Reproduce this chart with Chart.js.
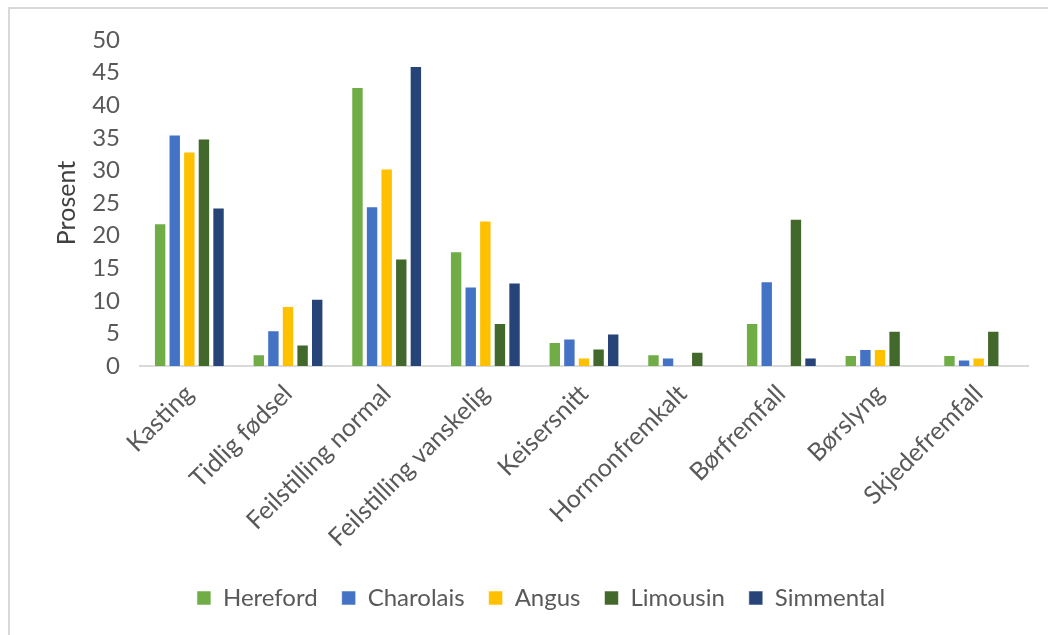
<!DOCTYPE html>
<html>
<head>
<meta charset="utf-8">
<script src="https://cdn.jsdelivr.net/npm/chart.js@4.4.1/dist/chart.umd.min.js"></script>
<style>
  html, body { margin: 0; padding: 0; background: #ffffff; }
  #wrap { position: relative; width: 1048px; height: 635px; overflow: hidden; }
  #frame { position: absolute; left: 8px; top: 7px; width: 1100px; height: 700px;
           border-left: 2px solid #d9d9d9; border-top: 2px solid #d9d9d9; box-sizing: border-box; }
  #c { position: absolute; left: 0; top: 0; }
</style>
</head>
<body>
<div id="wrap">
  <div id="frame"></div>
  <canvas id="c" width="1048" height="635"></canvas>
</div>
<script>
// Birth complications by breed, in percent
const categories = ['Kasting', 'Tidlig fødsel', 'Feilstilling normal', 'Feilstilling vanskelig',
  'Keisersnitt', 'Hormonfremkalt', 'Børfremfall', 'Børslyng', 'Skjedefremfall'];
const hereford  = [21.9, 1.8, 42.8, 17.6, 3.7, 1.8, 6.6, 1.7, 1.7];
const charolais = [35.5, 5.5, 24.5, 12.2, 4.2, 1.3, 13.0, 2.6, 1.0];
const angus     = [32.9, 9.2, 30.3, 22.3, 1.3, 0, 0, 2.6, 1.3];
const limousin  = [34.9, 3.3, 16.5, 6.6, 2.7, 2.2, 22.6, 5.4, 5.4];
const simmental = [24.3, 10.3, 46.0, 12.8, 5.0, 0, 1.3, 0, 0];
const yTicks = [0, 5, 10, 15, 20, 25, 30, 35, 40, 45, 50];

const FONT = 'Lato, "Open Sans", sans-serif';
const TXT = '#595959';
const PAD_LEFT = 54;

function ds(label, data, color) {
  return { label, data, backgroundColor: color, borderColor: 'rgba(255,255,255,0.55)', borderWidth: 1,
           categoryPercentage: 0.74, barPercentage: 0.85 };
}

new Chart(document.getElementById('c'), {
  type: 'bar',
  data: {
    labels: categories,
    datasets: [
      ds('Hereford', hereford, '#70AD47'),
      ds('Charolais', charolais, '#4472C4'),
      ds('Angus', angus, '#FFC000'),
      ds('Limousin', limousin, '#43682B'),
      ds('Simmental', simmental, '#264478')
    ]
  },
  options: {
    responsive: false,
    animation: false,
    layout: { padding: { left: PAD_LEFT, right: 20, top: 40, bottom: 15 } },
    plugins: {
      tooltip: { enabled: false },
      legend: {
        position: 'bottom',
        labels: { font: { family: FONT, size: 24 }, color: TXT, boxWidth: 14, boxHeight: 14, padding: 24 }
      }
    },
    scales: {
      x: {
        grid: { display: false, drawTicks: false },
        border: { display: true, color: '#d9d9d9', width: 2 },
        ticks: { font: { family: FONT, size: 25 }, color: TXT, minRotation: 45, maxRotation: 45, padding: 13, autoSkip: false },
        afterFit(scale) { scale.height = 196; }
      },
      y: {
        min: 0, max: 50,
        afterBuildTicks(scale) { scale.ticks = yTicks.map(v => ({ value: v })); },
        grid: { display: false, drawTicks: false },
        border: { display: false },
        ticks: { font: { family: FONT, size: 24 }, color: TXT, padding: 20 },
        title: { display: true, text: 'Prosent', font: { family: FONT, size: 25, lineHeight: 1.0 }, color: '#404040', padding: { top: 0, bottom: 0 } },
        afterFit(scale) { scale.width = 140 - PAD_LEFT; }
      }
    }
  }
});
</script>
</body>
</html>
